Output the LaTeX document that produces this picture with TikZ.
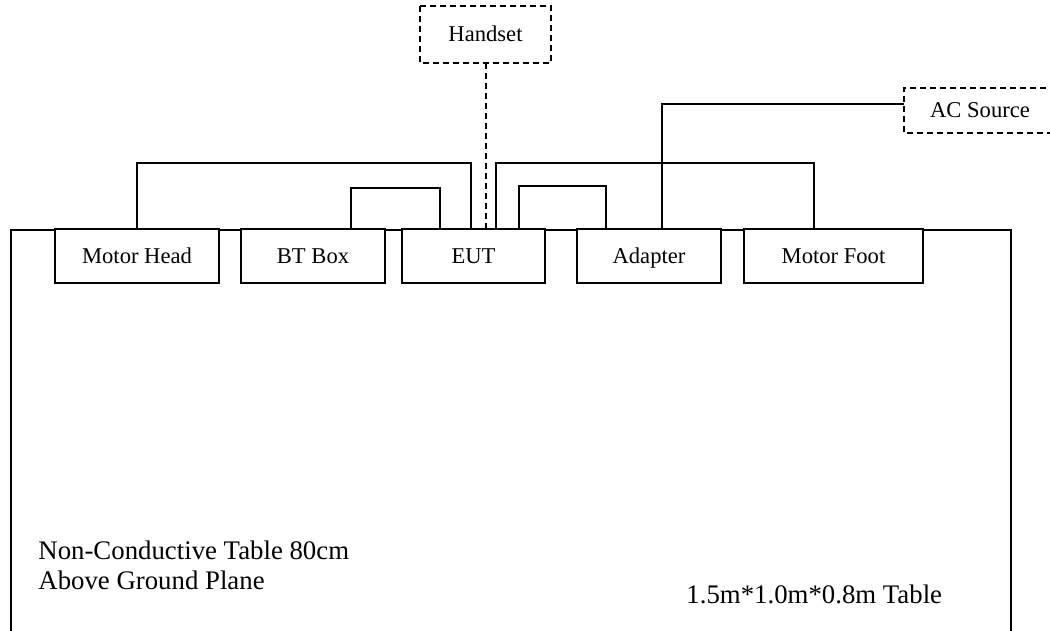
\documentclass[tikz,border=0pt]{standalone}
\usepackage{fontspec}
\setmainfont{Liberation Serif}
\usetikzlibrary{calc}
\tikzset{
  wire/.style={line width=1pt},
  dwire/.style={line width=1pt, dash pattern=on 3pt off 2pt},
  unit/.style={draw, line width=1pt, fill=white, inner sep=0pt, minimum height=27pt,
    text height=8.5pt, text depth=1pt, font=\fontsize{11.3}{13}\selectfont},
  lbl/.style={inner sep=0pt, font=\fontsize{13.4}{16}\selectfont, anchor=base west}
}
\begin{document}
\begin{tikzpicture}[x=0.5pt,y=-0.5pt]
\useasboundingbox (0,0) rectangle (1050,631);
% table
\draw[wire] (11,660) -- (11,230) -- (1011,230) -- (1011,660);
% units
\node[unit, minimum width=82pt]   (mh)  at (137,256)   {Motor Head};
\node[unit, minimum width=72pt]   (bt)  at (313,256)   {BT Box};
\node[unit, minimum width=71.5pt] (eut) at (473.5,256) {EUT};
\node[unit, minimum width=72pt]   (ad)  at (649,256)   {Adapter};
\node[unit, minimum width=89.5pt] (mf)  at (833.5,256) {Motor Foot};
% handset
\node[unit, draw=none, fill=none, minimum width=64.5pt, minimum height=27.5pt] (hs) at (485.5,34.5) {Handset};
\draw[dwire] (hs.north west) rectangle (hs.south east);
% AC source (open to the right)
\node[unit, draw=none, fill=none, minimum width=75pt, minimum height=21.5pt] (ac) at (980,110.5) {AC Source};
\draw[dwire] (ac.north east) -- (ac.north west) -- (ac.south west) -- (ac.south east);
% cables
\coordinate (e1) at ($(eut.north west)+(70,0)$);
\draw[wire] (mh.north) |- ($(e1)+(0,-65)$) -- (e1);
\coordinate (b1) at ($(bt.north west)+(111,0)$);
\coordinate (e2) at ($(eut.north west)+(39,0)$);
\draw[wire] (b1) |- ($(e2)+(0,-40)$) -- (e2);
\draw[dwire] (hs.south) -- (hs.south |- eut.north);
\coordinate (e3) at ($(eut.north west)+(95,0)$);
\coordinate (f1) at ($(mf.north west)+(71,0)$);
\draw[wire] (e3) |- ($(f1)+(0,-65)$) -- (f1);
\coordinate (e4) at ($(eut.north west)+(118,0)$);
\coordinate (a1) at ($(ad.north west)+(30,0)$);
\draw[wire] (e4) |- ($(a1)+(0,-42)$) -- (a1);
\coordinate (a2) at ($(ad.north west)+(86,0)$);
\draw[wire] (a2) |- ($(ac.north west)+(0,16)$);
% labels
\node[lbl] (t1) at (38,559) {Non-Conductive Table 80cm};
\node[lbl] (t2) at (38,589) {Above Ground Plane};
\node[lbl] (t3) at (686,603) {1.5m*1.0m*0.8m Table};
\end{tikzpicture}
\end{document}
